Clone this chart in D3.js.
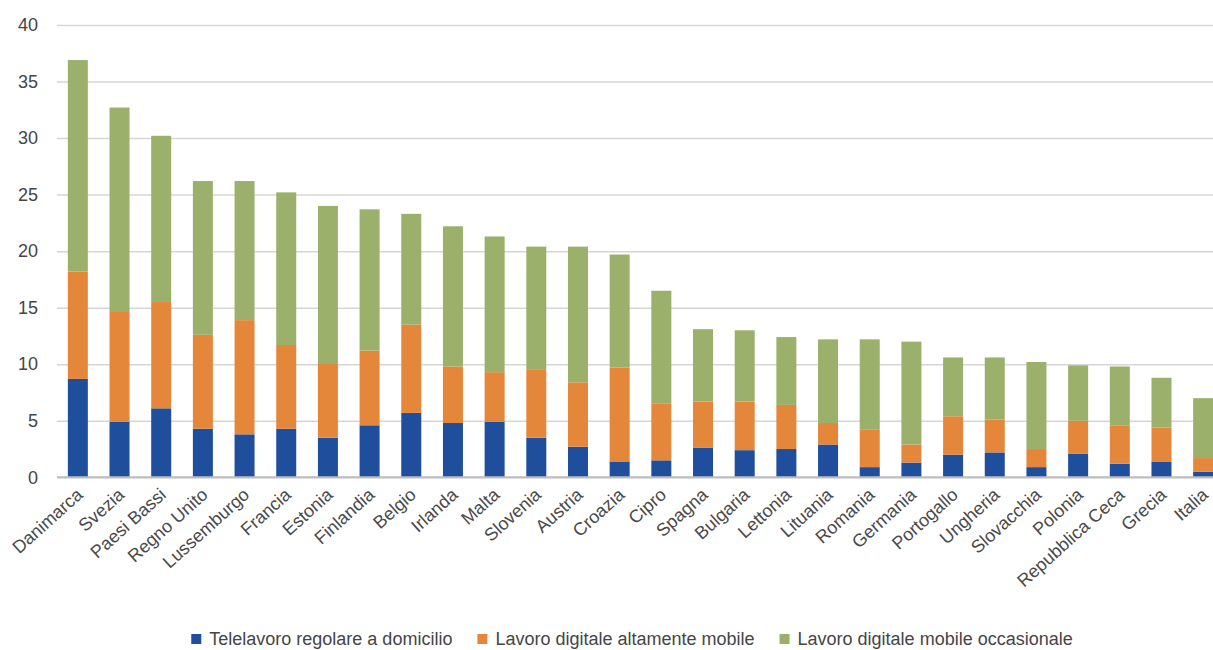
<!DOCTYPE html>
<html>
<head>
<meta charset="utf-8">
<script src="https://cdn.jsdelivr.net/npm/d3@7"></script>
<style>
    body { margin: 0; background: #fff; }
    svg { display: block; font-family: "Liberation Sans", Arial, sans-serif; }
</style>
</head>
<body>
<svg width="1213" height="650"></svg>
<script>
let countries = ['Danimarca', 'Svezia', 'Paesi Bassi', 'Regno Unito', 'Lussemburgo', 'Francia', 'Estonia',
                 'Finlandia', 'Belgio', 'Irlanda', 'Malta', 'Slovenia', 'Austria', 'Croazia', 'Cipro',
                 'Spagna', 'Bulgaria', 'Lettonia', 'Lituania', 'Romania', 'Germania', 'Portogallo',
                 'Ungheria', 'Slovacchia', 'Polonia', 'Repubblica Ceca', 'Grecia', 'Italia'];

let telelavoro = [8.7, 4.9, 6.1, 4.3, 3.8, 4.3, 3.5, 4.6, 5.7, 4.8, 4.9, 3.5, 2.7, 1.4,
                  1.5, 2.6, 2.4, 2.5, 2.9, 0.9, 1.3, 2.0, 2.2, 0.9, 2.1, 1.2, 1.4, 0.5];
let altamenteMobile = [9.5, 9.8, 9.4, 8.3, 10.1, 7.4, 6.6, 6.6, 7.8, 5.0, 4.4, 6.0, 5.7, 8.3,
                       5.0, 4.1, 4.3, 3.9, 1.9, 3.3, 1.6, 3.4, 2.9, 1.6, 2.9, 3.4, 3.0, 1.2];
let occasionale = [18.7, 18.0, 14.7, 13.6, 12.3, 13.5, 13.9, 12.5, 9.8, 12.4, 12.0, 10.9, 12.0, 10.0,
                   10.0, 6.4, 6.3, 6.0, 7.4, 8.0, 9.1, 5.2, 5.5, 7.7, 4.9, 5.2, 4.4, 5.3];

let seriesNames = ['Telelavoro regolare a domicilio', 'Lavoro digitale altamente mobile', 'Lavoro digitale mobile occasionale'];
let yTicks = [0, 5, 10, 15, 20, 25, 30, 35, 40];

let color = ['#1F4E9D', '#E5873A', '#9BB06B'];

let keys = ['a', 'b', 'c'];
let rows = countries.map((c, i) => ({country: c, a: telelavoro[i], b: altamenteMobile[i], c: occasionale[i]}));
let stacked = d3.stack().keys(keys)(rows);

let svg = d3.select('svg');

let x = d3.scaleBand()
            .domain(countries)
            .range([57, 1224])
            .paddingInner(0.52)
            .paddingOuter(0.26);

let y = d3.scaleLinear()
            .domain([0, 40])
            .range([477.3, 25]);

// gridlines + y labels
let yAxis = svg.append('g')
    .attr('transform', 'translate(57,0)')
    .call(d3.axisLeft(y).tickValues(yTicks).tickSize(-1170).tickPadding(19));

yAxis.select('.domain').remove();
yAxis.selectAll('.tick line')
    .attr('stroke', '#d6d6d6')
    .attr('stroke-width', 1.5);
yAxis.selectAll('.tick text')
    .attr('fill', '#454545')
    .style('font-size', '18px')
    .style('font-family', '"Liberation Sans", Arial, sans-serif');

// bars
svg.append('g')
    .selectAll('g')
    .data(stacked)
    .enter()
    .append('g')
    .attr('fill', function(d, i) { return color[i]; })
    .selectAll('rect')
    .data(function(d) { return d; })
    .enter()
    .append('rect')
    .attr('x', function(d) { return x(d.data.country); })
    .attr('width', x.bandwidth())
    .attr('y', function(d) { return y(d[1]); })
    .attr('height', function(d) { return y(d[0]) - y(d[1]); });

// baseline
svg.append('line')
    .attr('x1', 57).attr('x2', 1213)
    .attr('y1', y(0)).attr('y2', y(0))
    .attr('stroke', '#bdbdbd')
    .attr('stroke-width', 2);

// rotated country labels
svg.append('g')
    .selectAll('text')
    .data(countries)
    .enter()
    .append('text')
    .attr('transform', function(d) { return 'translate(' + (x(d) + x.bandwidth() / 2 + 6) + ',' + (y(0) + 19) + ') rotate(-42)'; })
    .attr('text-anchor', 'end')
    .attr('fill', '#4a4a4a')
    .style('font-size', '18px')
    .text(function(d) { return d; });

// legend
let legend = svg.append('g');
let items = legend.selectAll('g')
    .data(seriesNames)
    .enter()
    .append('g');

items.append('rect')
    .attr('width', 10).attr('height', 10)
    .attr('y', -11)
    .attr('fill', function(d, i) { return color[i]; });

items.append('text')
    .attr('x', 18)
    .attr('fill', '#454545')
    .style('font-size', '18px')
    .text(function(d) { return d; });

let pos = 0, offsets = [];
items.each(function(d, i) {
    let w = 18 + d3.select(this).select('text').node().getComputedTextLength();
    offsets.push(pos);
    pos += w + 25;
});
let total = pos - 25;
items.attr('transform', function(d, i) { return 'translate(' + offsets[i] + ',0)'; });
legend.attr('transform', 'translate(' + (632 - total / 2) + ',645)');
</script>
</body>
</html>
